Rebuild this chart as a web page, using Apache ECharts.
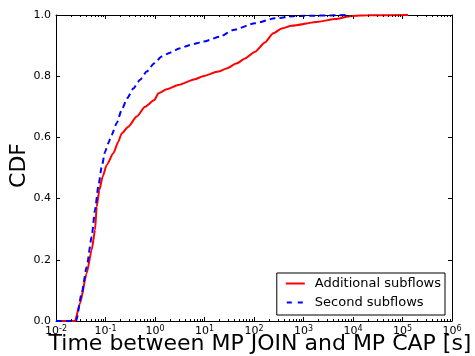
<!DOCTYPE html>
<html>
<head>
<meta charset="utf-8">
<script src="https://cdn.jsdelivr.net/npm/echarts@6/dist/echarts.min.js"></script>
<style>
  html, body { margin: 0; padding: 0; background: #fff; }
  #chart { width: 475px; height: 356px; }
</style>
</head>
<body>
<div id="chart"></div>
<script>
// time values in seconds
const additionalTime = [0.01, 0.0242, 0.0306, 0.0417, 0.0526, 0.0614, 0.0664, 0.075, 0.0877, 0.1057, 0.144, 0.1815, 0.212, 0.289, 0.427, 0.628, 0.968, 1.17, 1.72, 2.95, 6.4, 9.3, 19, 28, 45, 66, 105, 166, 245, 363, 575, 2000, 4370, 9330, 20000, 129000];
const additionalCdf  = [0, 0, 0.058, 0.156, 0.232, 0.297, 0.373, 0.428, 0.472, 0.51, 0.548, 0.586, 0.613, 0.635, 0.668, 0.7, 0.722, 0.744, 0.757, 0.771, 0.79, 0.8, 0.815, 0.825, 0.842, 0.858, 0.88, 0.91, 0.94, 0.956, 0.965, 0.978, 0.987, 0.997, 0.999, 1.0];

const secondTime = [0.01, 0.0255, 0.033, 0.0417, 0.0526, 0.0614, 0.0716, 0.0838, 0.098, 0.113, 0.133, 0.168, 0.212, 0.275, 0.365, 0.498, 0.679, 0.968, 1.36, 2.01, 3.2, 5.1, 9.46, 20.4, 38, 105, 263, 676, 8000];
const secondCdf  = [0, 0, 0.09, 0.177, 0.275, 0.363, 0.439, 0.504, 0.553, 0.58, 0.608, 0.646, 0.69, 0.728, 0.76, 0.788, 0.815, 0.842, 0.864, 0.877, 0.891, 0.902, 0.913, 0.929, 0.951, 0.973, 0.989, 0.997, 1.0];

const decades = [-2, -1, 0, 1, 2, 3, 4, 5];

const FONT = 'DejaVu Sans';

// matplotlib style minor ticks at 2..9 x 10^n
let minorTicks = [];
decades.forEach(function (d) {
    for (let k = 2; k <= 9; k++) minorTicks.push([k * Math.pow(10, d), 0]);
});

function pairs(xs, ys) {
    return xs.map(function (x, i) { return [x, ys[i]]; });
}

let chart = echarts.init(document.getElementById('chart'), null, { renderer: 'canvas' });

const tickStyle = { show: true, inside: true, length: 4, lineStyle: { color: '#000', width: 1 } };
const lineAxis = { show: true, onZero: false, lineStyle: { color: '#000', width: 1 } };

chart.setOption({
    animation: false,
    backgroundColor: '#fff',
    grid: { left: 56, right: 23, top: 15, bottom: 35, containLabel: false },
    xAxis: [
        {
            type: 'log', logBase: 10, min: 0.01, max: 1e6, splitNumber: 8,
            position: 'bottom',
            axisLine: lineAxis,
            axisTick: tickStyle,
            splitLine: { show: false },
            axisLabel: {
                margin: 4,
                formatter: function (v) {
                    let e = Math.round(Math.log10(v));
                    return '{b|10}{s|' + e + '}';
                },
                rich: {
                    b: { fontSize: 11, fontFamily: FONT, color: '#000', lineHeight: 13 },
                    s: { fontSize: 8, fontFamily: FONT, color: '#000', lineHeight: 8, verticalAlign: 'top' }
                }
            }
        },
        {
            type: 'log', logBase: 10, min: 0.01, max: 1e6, splitNumber: 8,
            position: 'top',
            axisLine: lineAxis,
            axisTick: tickStyle,
            splitLine: { show: false },
            axisLabel: { show: false }
        }
    ],
    yAxis: [
        {
            type: 'value', min: 0, max: 1, interval: 0.2,
            position: 'left',
            axisLine: lineAxis,
            axisTick: tickStyle,
            splitLine: { show: false },
            axisLabel: {
                margin: 5, fontSize: 11, fontFamily: FONT, color: '#000',
                formatter: function (v) { return v.toFixed(1); }
            }
        },
        {
            type: 'value', min: 0, max: 1, interval: 0.2,
            position: 'right',
            axisLine: lineAxis,
            axisTick: tickStyle,
            splitLine: { show: false },
            axisLabel: { show: false }
        }
    ],
    legend: {
        data: [
            { name: 'Additional subflows', icon: 'path://M0,0h19v2h-19z' },
            // two short dashes, tiny end markers keep the icon 19px wide
            { name: 'Second subflows', icon: 'path://M0,0h0.1v0.1h-0.1z M1,0h5v2h-5z M12,0h5v2h-5z M18.9,0h0.1v0.1h-0.1z' }
        ],
        orient: 'vertical',
        right: 30,
        bottom: 41,
        padding: [3, 4, 5, 9],
        itemGap: 4,
        itemWidth: 19,
        itemHeight: 2,
        backgroundColor: '#fff',
        borderColor: '#000',
        borderWidth: 1,
        borderRadius: 0,
        textStyle: { fontSize: 13, fontFamily: FONT, color: '#000', lineHeight: 15, padding: [0, 0, 0, 5] }
    },
    graphic: [
        {
            type: 'text', left: 8, top: 143,
            rotation: Math.PI / 2,
            style: { text: 'CDF', font: '22px "DejaVu Sans"', fill: '#000' }
        },
        {
            type: 'text', x: 260, y: 344,
            style: {
                text: 'Time between MP JOIN and MP CAP [s]',
                font: '22px "DejaVu Sans"', fill: '#000',
                align: 'center', verticalAlign: 'middle'
            }
        }
    ],
    series: [
        {
            name: 'Additional subflows',
            type: 'line',
            xAxisIndex: 0, yAxisIndex: 0,
            data: pairs(additionalTime, additionalCdf),
            showSymbol: false, symbol: 'none',
            smooth: 0.2, smoothMonotone: 'x',
            lineStyle: { color: '#ff0000', width: 2 },
            itemStyle: { color: '#ff0000' },
            z: 3
        },
        {
            name: 'Second subflows',
            type: 'line',
            xAxisIndex: 0, yAxisIndex: 0,
            data: pairs(secondTime, secondCdf),
            showSymbol: false, symbol: 'none',
            smooth: 0.2, smoothMonotone: 'x',
            lineStyle: { color: '#0000ff', width: 2, type: [6, 4] },
            itemStyle: { color: '#0000ff' },
            z: 4
        },
        {
            name: 'minor',
            type: 'custom',
            xAxisIndex: 0, yAxisIndex: 0,
            silent: true,
            clip: false,
            data: minorTicks,
            renderItem: function (params, api) {
                let bottom = api.coord([api.value(0), 0]);
                let top = api.coord([api.value(0), 1]);
                let st = { stroke: '#000', lineWidth: 1 };
                let bx = Math.round(bottom[0]) + 0.5;
                return {
                    type: 'group',
                    children: [
                        { type: 'line', shape: { x1: bx, y1: bottom[1], x2: bx, y2: bottom[1] - 2 }, style: st },
                        { type: 'line', shape: { x1: bx, y1: top[1], x2: bx, y2: top[1] + 2 }, style: st }
                    ]
                };
            },
            z: 5
        }
    ]
});
</script>
</body>
</html>
